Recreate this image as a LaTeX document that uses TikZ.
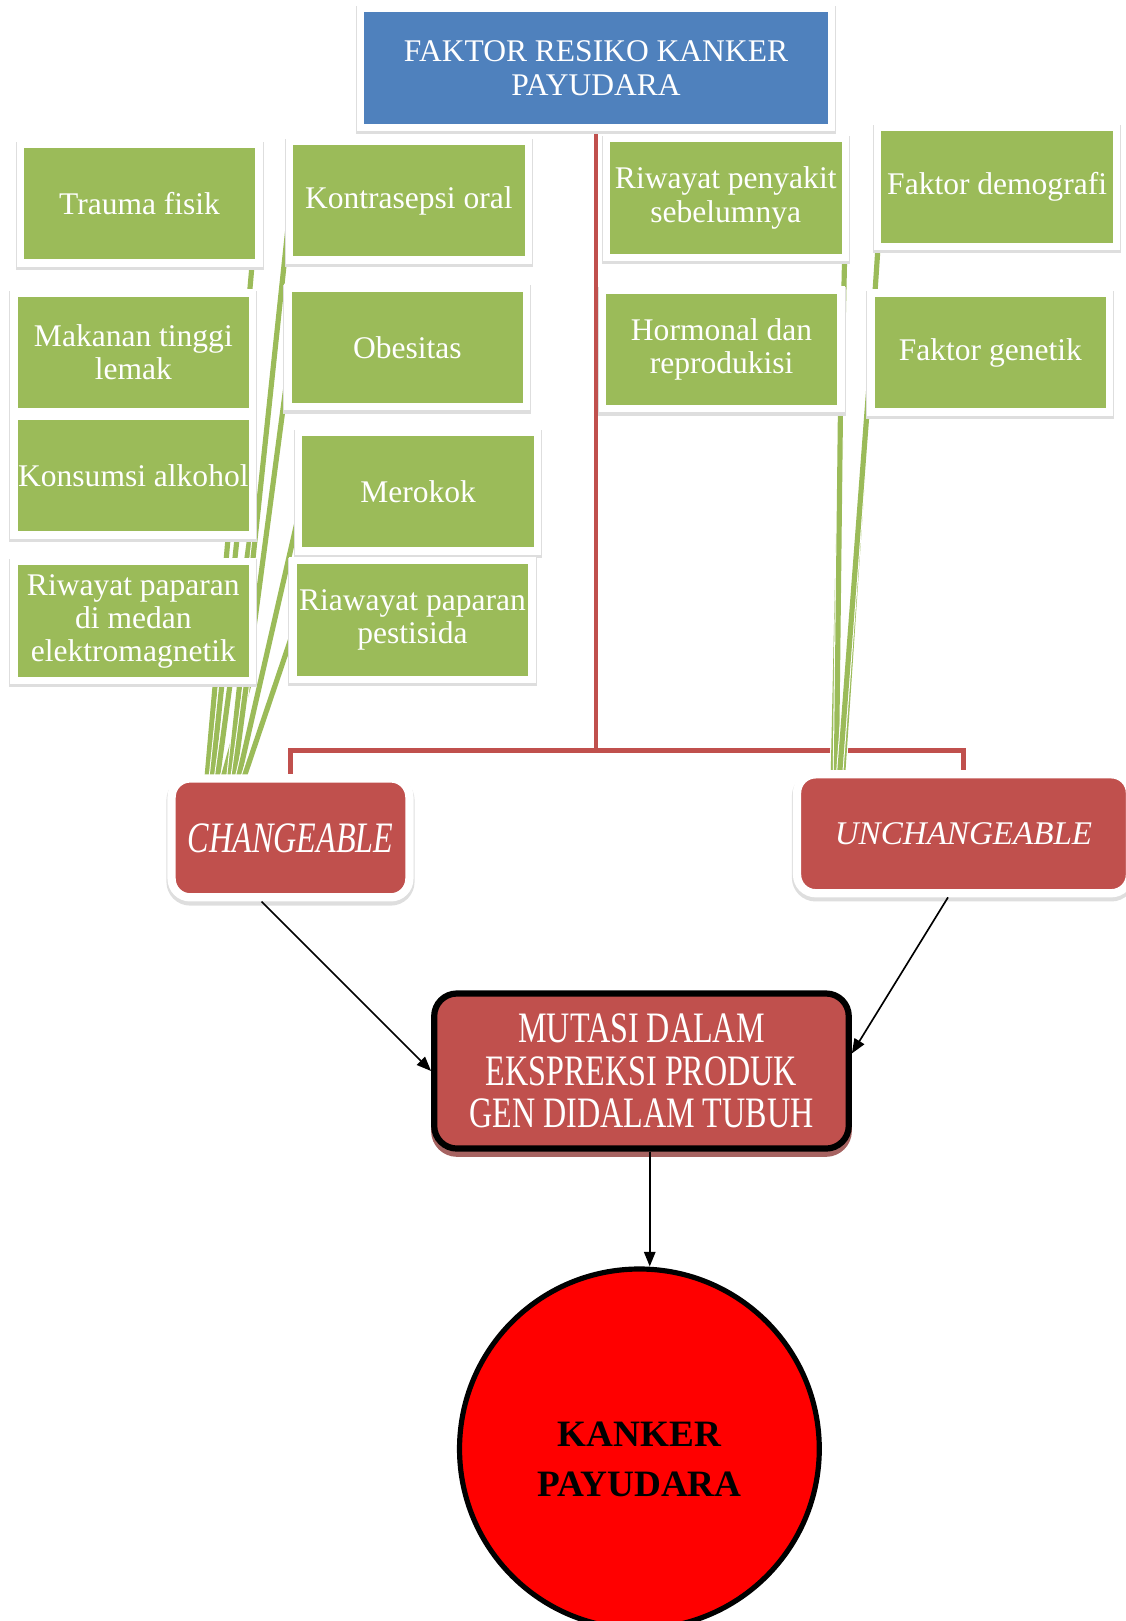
\documentclass[tikz,border=0pt]{standalone}
\usepackage{fontspec}
\setmainfont{Liberation Serif}
\newfontfamily\condfont[FakeStretch=0.74]{Liberation Serif}
\definecolor{rfgreen}{HTML}{9BBB59}
\definecolor{rfblue}{HTML}{4F81BD}
\definecolor{rfred}{HTML}{C0504D}
\usetikzlibrary{arrows.meta,backgrounds}

\begin{document}
\begin{tikzpicture}[x=1pt,y=-1pt,
  rfbox/.style={draw=white,line width=7pt,fill=rfgreen,minimum width=231pt,minimum height=115pt,
    align=center,text=white,font=\fontsize{30.5}{32}\selectfont,inner sep=0pt,
    preaction={draw=black!13,line width=9pt,fill=black!13,transform canvas={yshift=-2pt}}},
  rfgroup/.style={draw=white,line width=8pt,fill=rfred,rounded corners=18pt,
    minimum height=115pt,align=center,text=white,inner sep=0pt,
    preaction={draw=black!13,line width=10pt,fill=black!13,transform canvas={yshift=-3pt}}},
  rfline/.style={rfred,line width=4pt},
  rfleaf/.style={rfgreen,line width=5pt,preaction={draw=white,line width=7pt}},
  rfarr/.style={-{Triangle[length=14pt,width=11pt]},line width=1.6pt}
]
  \useasboundingbox (0,0) rectangle (1089,1568);

  % Judul
  \node[rfbox,fill=rfblue,minimum width=456pt] (title) at (576.5,66) {FAKTOR RESIKO KANKER\\PAYUDARA};

  % Faktor yang dapat diubah
  \node[rfbox] (trauma)   at (135,197)   {Trauma fisik};
  \node[rfbox] (kontra)   at (395.5,194) {Kontrasepsi oral};
  \node[rfbox] (makanan)  at (129,341)   {Makanan tinggi\\lemak};
  \node[rfbox] (obesitas) at (394,336)   {Obesitas};
  \node[rfbox] (konsumsi) at (129,460)   {Konsumsi alkohol};
  \node[rfbox] (merokok)  at (404.5,475.5) {Merokok};
  \node[rfbox] (elektro)  at (129,601)   {Riwayat paparan\\di medan\\elektromagnetik};
  \node[rfbox] (pestisida) at (399,600)  {Riawayat paparan\\pestisida};

  % Faktor yang tidak dapat diubah
  \node[rfbox] (penyakit)  at (702,191.5) {Riwayat penyakit\\sebelumnya};
  \node[rfbox] (demografi) at (964.5,181) {Faktor demografi};
  \node[rfbox] (hormonal)  at (698,338)   {Hormonal dan\\reprodukisi};
  \node[rfbox] (genetik)   at (958,341)   {Faktor genetik};

  % Kelompok
  \node[rfgroup,minimum width=230pt,font=\condfont\itshape\fontsize{42}{44}\selectfont]
    (chg) at (281,810.5) {CHANGEABLE};
  \node[rfgroup,minimum width=322pt,font=\itshape\fontsize{32}{34}\selectfont]
    (unc) at (932,806.5) {UNCHANGEABLE};

  % Mutasi
  \node[draw=black,line width=6pt,fill=rfred,rounded corners=22pt,minimum width=401pt,
    minimum height=150pt,align=center,text=white,inner sep=0pt,
    font=\condfont\fontsize{42}{41}\selectfont,
    preaction={draw=rfred!60!gray,fill=rfred!60!gray,transform canvas={yshift=-5pt}}]
    (mut) at (620.5,1036) {MUTASI DALAM\\EKSPREKSI PRODUK\\GEN DIDALAM TUBUH};

  % Kanker
  \node[circle,draw=black,line width=5pt,fill=red,minimum size=348pt,
    text height=93pt,text depth=0pt,font=\bfseries\fontsize{36}{49}\selectfont]
    (ka) at (618.5,1401.5) {\begin{tabular}[b]{@{}c@{}}KANKER\\PAYUDARA\end{tabular}};

  \coordinate (split) at (577,726);

  \begin{scope}[on background layer]
    % garis kelompok
    \draw[rfline] (title.south) -- (title.south |- split) -| (chg.north);
    \draw[rfline] (title.south |- split) -| (unc.north);

    % garis faktor
    \draw[rfleaf] ([shift={(-10,-4)}]trauma.south east) -- ([shift={(38,6)}]chg.north west);
    \draw[rfleaf] ([shift={(-6,-4)}]makanan.south east) -- ([shift={(43,6)}]chg.north west);
    \draw[rfleaf] ([shift={(-6,-4)}]konsumsi.south east) -- ([shift={(48,6)}]chg.north west);
    \draw[rfleaf] ([shift={(-6,-4)}]elektro.south east) -- ([shift={(53,6)}]chg.north west);
    \draw[rfleaf] ([shift={(4,8)}]kontra.west) -- ([shift={(60,6)}]chg.north west);
    \draw[rfleaf] ([shift={(4,20)}]obesitas.west) -- ([shift={(64,6)}]chg.north west);
    \draw[rfleaf] ([shift={(4,20)}]merokok.west) -- ([shift={(68,6)}]chg.north west);
    \draw[rfleaf] ([shift={(4,10)}]pestisida.west) -- ([shift={(73,6)}]chg.north west);

    \draw[rfleaf] ([shift={(-4,-4)}]penyakit.south east) -- ([shift={(39,6)}]unc.north west);
    \draw[rfleaf] ([shift={(-4,-4)}]hormonal.south east) -- ([shift={(42,6)}]unc.north west);
    \draw[rfleaf] ([shift={(4,-6)}]demografi.south west) -- ([shift={(48,6)}]unc.north west);
    \draw[rfleaf] ([shift={(4,0)}]genetik.west) -- ([shift={(45,6)}]unc.north west);
  \end{scope}

  % panah
  \draw[rfarr] ([shift={(-28,0)}]chg.south) -- (mut.west);
  \draw[rfarr] ([shift={(-15,0)}]unc.south) -- ([shift={(0,-17)}]mut.east);
  \draw[rfarr] ([shift={(8,0)}]mut.south) -- ([shift={(10,0)}]ka.north);
\end{tikzpicture}
\end{document}
